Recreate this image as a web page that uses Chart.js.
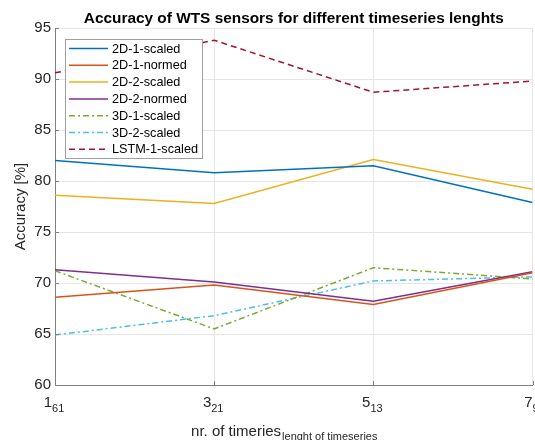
<!DOCTYPE html>
<html>
<head>
<meta charset="utf-8">
<script src="https://cdn.jsdelivr.net/npm/chart.js@4/dist/chart.umd.min.js"></script>
<style>
  body { margin: 0; background: #fff; }
</style>
</head>
<body>
<canvas id="accChart" width="535" height="440"></canvas>
<script>
// x positions: number of timeseries, subscript = length of each timeseries
var nrSeries = [1, 3, 5, 7];
var seriesLength = ['61', '21', '13', '9'];
var yTicks = [60, 65, 70, 75, 80, 85, 90, 95];

// accuracy [%] per run
var acc2D1scaled = [82.0, 80.8, 81.5, 77.9];
var acc2D1normed = [68.6, 69.8, 67.9, 71.0];
var acc2D2scaled = [78.6, 77.8, 82.1, 79.2];
var acc2D2normed = [71.3, 70.1, 68.2, 71.1];
var acc3D1scaled = [71.2, 65.5, 71.5, 70.4];
var acc3D2scaled = [64.9, 66.8, 70.2, 70.6];
var accLSTM1scaled = [90.6, 93.8, 88.7, 89.8];

var seriesNames = ['2D-1-scaled', '2D-1-normed', '2D-2-scaled', '2D-2-normed', '3D-1-scaled', '3D-2-scaled', 'LSTM-1-scaled'];
var seriesValues = [acc2D1scaled, acc2D1normed, acc2D2scaled, acc2D2normed, acc3D1scaled, acc3D2scaled, accLSTM1scaled];

// matlab default colours
var colors = ['#0072BD', '#D95319', '#EDB120', '#7E2F8E', '#77AC30', '#4DBEEE', '#A2142F'];
var dashes = [[], [], [], [], [6, 3, 2, 3], [6, 3, 2, 3], [6, 4]];

var FONT = "'Liberation Sans', Arial, sans-serif";
var TXT = '#262626';

function toPoints(vals) {
  return vals.map(function(v, i) { return { x: nrSeries[i], y: v }; });
}

var datasets = seriesNames.map(function(name, i) {
  return {
    label: name,
    data: toPoints(seriesValues[i]),
    borderColor: colors[i],
    backgroundColor: colors[i],
    borderDash: dashes[i],
    borderWidth: 1.5,
    pointRadius: 0,
    tension: 0,
    fill: false
  };
});

// draws title, x labels with subscripts, inward ticks and the legend box
var matlabDecor = {
  id: 'matlabDecor',
  afterDraw: function(chart) {
    var ctx = chart.ctx;
    var area = chart.chartArea;
    var xs = chart.scales.x, ys = chart.scales.y;
    ctx.save();

    // inward tick marks
    ctx.strokeStyle = '#808080';
    ctx.lineWidth = 1;
    ctx.beginPath();
    nrSeries.forEach(function(n) {
      var px = Math.round(xs.getPixelForValue(n)) + 0.5;
      ctx.moveTo(px, area.bottom);
      ctx.lineTo(px, area.bottom - 4);
    });
    yTicks.forEach(function(t) {
      var py = Math.round(ys.getPixelForValue(t)) + 0.5;
      ctx.moveTo(area.left, py);
      ctx.lineTo(area.left + 4, py);
    });
    ctx.stroke();

    // x tick labels: main number + subscript length
    ctx.fillStyle = TXT;
    ctx.textBaseline = 'alphabetic';
    ctx.textAlign = 'left';
    nrSeries.forEach(function(n, i) {
      var main = String(n), sub = seriesLength[i];
      ctx.font = '15px ' + FONT;
      var wm = ctx.measureText(main).width;
      ctx.font = '11px ' + FONT;
      var wsub = ctx.measureText(sub).width;
      var x0 = xs.getPixelForValue(n) - (wm + wsub) / 2 - 1;
      ctx.font = '15px ' + FONT;
      ctx.fillText(main, x0, 407);
      ctx.font = '11px ' + FONT;
      ctx.fillText(sub, x0 + wm, 412);
    });

    // x axis title with subscript
    var tMain = 'nr. of timeries', tSub = 'lenght of timeseries';
    ctx.font = '15px ' + FONT;
    var w1 = ctx.measureText(tMain).width;
    ctx.font = '11px ' + FONT;
    var w2 = ctx.measureText(tSub).width;
    var tx = (area.left + area.right) / 2 - (w1 + w2) / 2 - 10;
    ctx.font = '15px ' + FONT;
    ctx.fillText(tMain, tx, 436);
    ctx.font = '11px ' + FONT;
    ctx.fillText(tSub, tx + w1 + 1, 440);

    // chart title
    ctx.font = 'bold 15.4px ' + FONT;
    ctx.fillStyle = '#000';
    ctx.textAlign = 'center';
    ctx.textBaseline = 'middle';
    ctx.fillText('Accuracy of WTS sensors for different timeseries lenghts', (area.left + area.right) / 2, 19);

    // legend
    var bx = 65.5, by = 39.5, bw = 137, bh = 119;
    ctx.fillStyle = '#fff';
    ctx.fillRect(bx, by, bw, bh);
    ctx.strokeStyle = '#a0a0a0';
    ctx.lineWidth = 1;
    ctx.strokeRect(bx, by, bw, bh);
    ctx.font = '12.7px ' + FONT;
    ctx.textAlign = 'left';
    ctx.textBaseline = 'middle';
    chart.data.datasets.forEach(function(ds, i) {
      var ly = 48.5 + i * 16.8;
      ctx.strokeStyle = ds.borderColor;
      ctx.lineWidth = 1.5;
      ctx.setLineDash(ds.borderDash);
      ctx.beginPath();
      ctx.moveTo(69, ly);
      ctx.lineTo(108, ly);
      ctx.stroke();
      ctx.setLineDash([]);
      ctx.fillStyle = '#000';
      ctx.fillText(ds.label, 112, ly + 0.5);
    });

    ctx.restore();
  }
};

window.onload = function() {
  new Chart(document.getElementById('accChart'), {
    type: 'line',
    data: { datasets: datasets },
    options: {
      responsive: false,
      animation: false,
      devicePixelRatio: 1,
      layout: { padding: { top: 28, right: 2.5, left: 0, bottom: 0 } },
      plugins: {
        legend: { display: false },
        title: { display: false },
        tooltip: { enabled: false }
      },
      scales: {
        x: {
          type: 'linear',
          min: 1,
          max: 7,
          afterFit: function(scale) { scale.height = 55; },
          afterBuildTicks: function(scale) {
            scale.ticks = nrSeries.map(function(v) { return { value: v }; });
          },
          ticks: { display: false },
          grid: { color: '#e6e6e6', drawTicks: false },
          border: { display: true, color: '#808080', width: 1 }
        },
        y: {
          min: 60,
          max: 95,
          afterFit: function(scale) { scale.width = 55; },
          afterBuildTicks: function(scale) {
            scale.ticks = yTicks.map(function(v) { return { value: v }; });
          },
          ticks: {
            font: { family: FONT, size: 15 },
            color: TXT,
            padding: 4
          },
          title: {
            display: true,
            text: 'Accuracy [%]',
            font: { family: FONT, size: 15 },
            color: TXT,
            padding: { top: 12, bottom: 0 }
          },
          grid: { color: '#e6e6e6', drawTicks: false },
          border: { display: true, color: '#808080', width: 1 }
        }
      }
    },
    plugins: [matlabDecor]
  });
};
</script>
</body>
</html>
